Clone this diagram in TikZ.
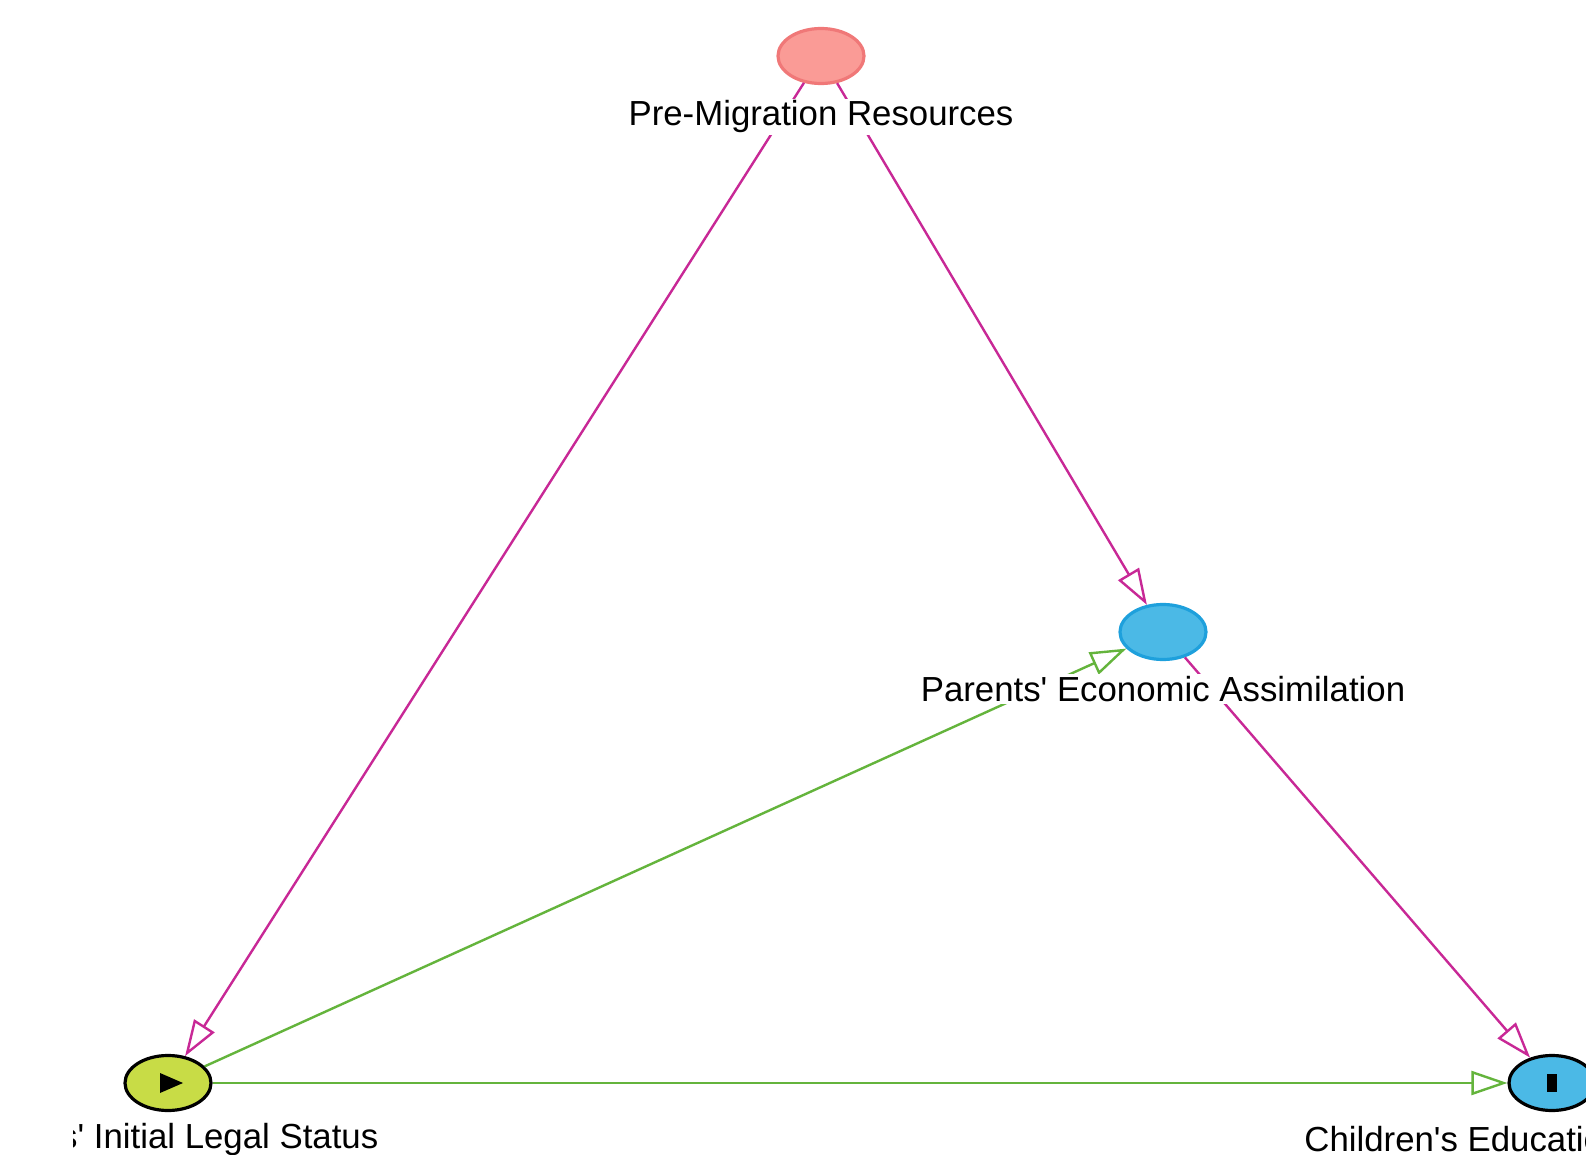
\documentclass[tikz,border=0pt]{standalone}
\usepackage{fontspec}
\newfontfamily\labelfont{Liberation Sans}
\usetikzlibrary{calc,shapes.geometric,arrows.meta}

\definecolor{biaspink}{RGB}{200,40,150}
\definecolor{causalgreen}{RGB}{100,180,60}
\definecolor{conffill}{RGB}{250,155,150}
\definecolor{confline}{RGB}{240,120,120}
\definecolor{ancfill}{RGB}{75,185,230}
\definecolor{ancline}{RGB}{30,160,220}
\definecolor{expfill}{RGB}{200,220,70}

\tikzset{
  var/.style={ellipse,minimum width=43pt,minimum height=27.5pt,inner sep=0pt,line width=1.6pt},
  varname/.style={fill=white,inner sep=1pt,font=\labelfont\fontsize{17.4}{20}\selectfont},
  biasing/.style={draw=biaspink,line width=1.2pt,-{Triangle[open,length=18pt,width=12pt]}},
  causal/.style={draw=causalgreen,line width=1.2pt,-{Triangle[open,length=18pt,width=12pt]}}
}

\begin{document}
\begin{tikzpicture}[x=0.5pt,y=-0.5pt]
\clip (0,0) rectangle (1586,1155);
\fill[white] (0,0) rectangle (1586,1155);

% variables
\draw node [var,fill=conffill,draw=confline] (resources) at (821,56) {};
\draw node [var,fill=ancfill,draw=ancline] (assim) at (1163,632) {};
\draw node [var,fill=expfill,draw=black] (legal) at (168,1083) {};
\draw node [var,fill=ancfill,draw=black] (educ) at (1552,1083) {};
\fill ($ (legal)+(-8,-10) $) -- ($ (legal)+(-8,10) $) -- ($ (legal)+(15,0) $) -- cycle;
\fill ($ (educ)+(-5,-9) $) rectangle ($ (educ)+(5,9) $);

% arrows
\draw[biasing] (resources) -- (legal);
\draw[biasing] (resources) -- (assim);
\draw[biasing] (assim) -- (educ);
\draw[causal] (legal) -- (assim);
\draw[causal] (legal) -- (educ);

% names
\draw node [varname] at ($ (resources) + (0,61) $) {Pre-Migration Resources};
\draw node [varname] at ($ (assim) + (0,57) $) {Parents' Economic Assimilation};
\draw node [varname] at ($ (educ) + (13,56) $) {Children's Educational Attainment};
\begin{scope}
\clip (73,1100) rectangle (700,1155);
\draw node [varname] at ($ (legal) + (0,56) $) {Parents' Initial Legal Status};
\end{scope}

\end{tikzpicture}
\end{document}
